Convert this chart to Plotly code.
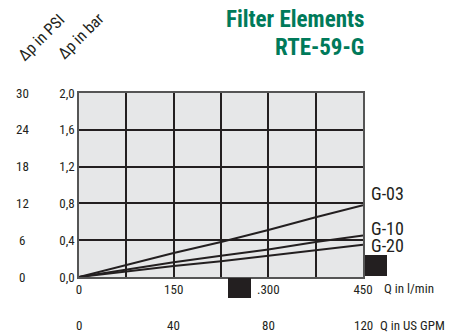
import plotly.graph_objects as go

flow_lpm = [0, 75, 150, 225, 300, 375, 450]
g03 = [0.0, 0.13, 0.26, 0.38, 0.51, 0.65, 0.78]
g10 = [0.0, 0.08, 0.16, 0.23, 0.30, 0.38, 0.45]
g20 = [0.0, 0.06, 0.12, 0.17, 0.23, 0.29, 0.35]
series_names = ["G-03", "G-10", "G-20"]
series_vals = [g03, g10, g20]
label_y = [0.91, 0.53, 0.34]

bar_ticks = [0.0, 0.4, 0.8, 1.2, 1.6, 2.0]
bar_text = ["0,0", "0,4", "0,8", "1,2", "1,6", "2,0"]
psi_ticks = [0, 6, 12, 18, 24, 30]
lpm_ticks = [0, 150, 300, 450]
lpm_text = ["0", "150", ".300", "450"]
gpm_ticks = [0, 40, 80, 120]

DARK = "#231f20"
GREEN = "#007a5a"
FONT = "Liberation Sans Narrow, Roboto Condensed, Arial Narrow, Roboto, sans-serif"

# page body has an 8px default margin: work in reference-pixel coordinates
OFF = 8
W, H = 460 - OFF, 336 - OFF
ml, mr, mt, mb = 79 - OFF, 460 - 363, 93 - OFF, 336 - 277
pw = W - ml - mr
ph = H - mt - mb


def px(xp):
    return (xp - OFF - ml) / pw


def py(yp):
    return (H - mb - (yp - OFF)) / ph


fig = go.Figure()
for name, vals in zip(series_names, series_vals):
    fig.add_trace(go.Scatter(x=flow_lpm, y=vals, mode="lines", name=name,
                             line=dict(color=DARK, width=2), showlegend=False,
                             hoverinfo="skip"))

for name, yv in zip(series_names, label_y):
    fig.add_annotation(x=450, y=yv, xref="x", yref="y", text=name, showarrow=False,
                       xanchor="left", xshift=6,
                       font=dict(size=18, color=DARK, family=FONT))
for p in psi_ticks:
    fig.add_annotation(x=px(22), y=p * 2.0 / 30, xref="paper", yref="y", text=str(p),
                       showarrow=False, xanchor="center",
                       font=dict(size=13, color=DARK, family=FONT))
for g in gpm_ticks:
    fig.add_annotation(x=g * 450 / 120, y=py(325), xref="x", yref="paper", text=str(g),
                       showarrow=False, xanchor="center", yanchor="middle",
                       font=dict(size=13, color=DARK, family=FONT))

extra = [
    dict(x=px(382), y=py(288), text="Q in l/min", xanchor="left", size=13, color=DARK, angle=0),
    dict(x=px(378), y=py(325), text="Q in US GPM", xanchor="left", size=13, color=DARK, angle=0),
    dict(x=px(366), y=py(20), text="<b>Filter Elements</b>", xanchor="right", size=23, color=GREEN, angle=0),
    dict(x=px(366), y=py(48), text="<b>RTE-59-G</b>", xanchor="right", size=23, color=GREEN, angle=0),
    dict(x=px(41), y=py(37), text="Δp in PSI", xanchor="center", size=16, color=DARK, angle=-45),
    dict(x=px(80), y=py(36), text="Δp in bar", xanchor="center", size=16, color=DARK, angle=-45),
]
for e in extra:
    fig.add_annotation(x=e["x"], y=e["y"], xref="paper", yref="paper", text=e["text"],
                       showarrow=False, xanchor=e["xanchor"], yanchor="middle",
                       textangle=e["angle"],
                       font=dict(size=e["size"], color=e["color"], family=FONT))

fig.add_shape(type="rect", xref="paper", yref="paper", x0=px(365), x1=px(387),
              y0=py(276), y1=py(255), fillcolor=DARK, line=dict(width=0), layer="above")
fig.add_shape(type="rect", xref="paper", yref="paper", x0=px(228), x1=px(251),
              y0=py(298), y1=py(278), fillcolor=DARK, line=dict(width=0), layer="above")

fig.update_layout(
    width=W, height=H,
    margin=dict(l=ml, r=mr, t=mt, b=mb, pad=0),
    paper_bgcolor="white",
    plot_bgcolor="#e6e7e8",
    font=dict(family=FONT, color=DARK, size=13),
    xaxis=dict(range=[0, 450], tickvals=lpm_ticks, ticktext=lpm_text,
               showgrid=True, gridcolor=DARK, gridwidth=1.6,
               zeroline=False, showline=True, linecolor="#555555", linewidth=1.5,
               mirror=True, ticks="", tickfont=dict(size=13, color=DARK, family=FONT),
               minor=dict(tickvals=[75, 225, 375], showgrid=True, gridcolor=DARK,
                          gridwidth=1.6)),
    yaxis=dict(range=[0, 2], tickvals=bar_ticks, ticktext=bar_text,
               showgrid=True, gridcolor=DARK, gridwidth=1.6,
               zeroline=False, showline=True, linecolor="#555555", linewidth=1.5,
               mirror=True, ticks="", tickfont=dict(size=13, color=DARK, family=FONT)),
)

fig.write_html("out.html")
